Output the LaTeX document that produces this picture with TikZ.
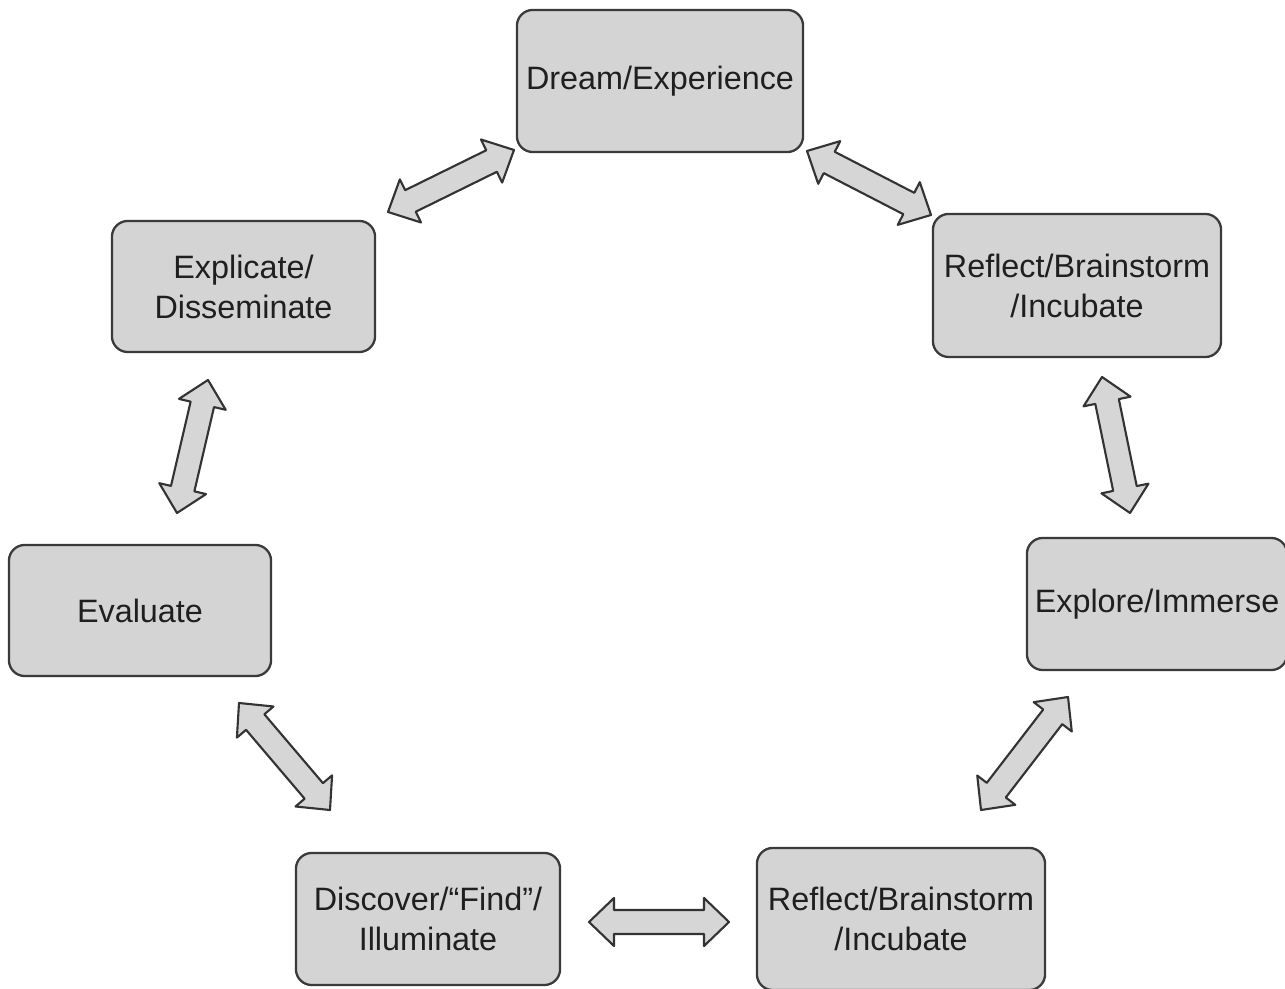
\documentclass[tikz,border=0pt]{standalone}
\usepackage{fontspec}
\setmainfont{Liberation Sans}
\usetikzlibrary{calc}
\definecolor{boxfill}{HTML}{D4D4D4}
\definecolor{boxline}{HTML}{3A3A3A}
\definecolor{arrfill}{HTML}{D6D6D6}
\definecolor{arrline}{HTML}{333333}
\newcommand\dblarrow[2]{%
  \coordinate (h1) at ($(#1)!0.25cm!(#2)$);
  \coordinate (h2) at ($(#2)!0.25cm!(#1)$);
  \filldraw[arrowstyle] (#1) -- ($(h1)!0.24cm!90:(#2)$) -- ($(h1)!0.12cm!90:(#2)$)
    -- ($(h2)!0.12cm!-90:(#1)$) -- ($(h2)!0.24cm!-90:(#1)$) -- (#2)
    -- ($(h2)!0.24cm!90:(#1)$) -- ($(h2)!0.12cm!90:(#1)$)
    -- ($(h1)!0.12cm!-90:(#2)$) -- ($(h1)!0.24cm!-90:(#2)$) -- cycle;}
\begin{document}
\begin{tikzpicture}[x=0.01cm,y=-0.01cm,
  box/.style={draw=boxline, fill=boxfill, line width=0.65pt, rounded corners=4.5pt,
    align=center, inner sep=0pt, font=\fontsize{9.2}{11.4}\selectfont, text=black!88},
  arrowstyle/.style={draw=arrline, fill=arrfill, line width=0.6pt, line join=round}]
\useasboundingbox (0,0) rectangle (1285,989);
\fill[white] (0,0) rectangle (1285,989);

\node[box, minimum width=2.86cm, minimum height=1.42cm] (dream) at (660,81) {Dream/Experience};
\node[box, minimum width=2.88cm, minimum height=1.43cm] (rbitop) at (1077,285.5) {Reflect/Brainstorm\\/Incubate};
\node[box, minimum width=2.60cm, minimum height=1.32cm] (explore) at (1157,604) {Explore/Immerse};
\node[box, minimum width=2.88cm, minimum height=1.42cm] (rbibot) at (901,919) {Reflect/Brainstorm\\/Incubate};
\node[box, minimum width=2.64cm, minimum height=1.32cm] (discover) at (428,919) {Discover/\textquotedblleft Find\textquotedblright/\\Illuminate};
\node[box, minimum width=2.62cm, minimum height=1.31cm] (evaluate) at (140,610.5) {Evaluate};
\node[box, minimum width=2.63cm, minimum height=1.31cm] (explicate) at (243.5,286.5) {Explicate/\\Disseminate};

\coordinate (a1s) at (388,212);  \coordinate (a1e) at (514,150);
\coordinate (a2s) at (807,151);  \coordinate (a2e) at (931,215);
\coordinate (a3s) at (1102,377); \coordinate (a3e) at (1130,513);
\coordinate (a4s) at (1068,697); \coordinate (a4e) at (981,810);
\coordinate (a5s) at (589,922);  \coordinate (a5e) at (729,922);
\coordinate (a6s) at (239,703);  \coordinate (a6e) at (330,810);
\coordinate (a7s) at (208,380);  \coordinate (a7e) at (177,513);

\dblarrow{a1s}{a1e}
\dblarrow{a2s}{a2e}
\dblarrow{a3s}{a3e}
\dblarrow{a4s}{a4e}
\dblarrow{a5s}{a5e}
\dblarrow{a6s}{a6e}
\dblarrow{a7s}{a7e}
\end{tikzpicture}
\end{document}
